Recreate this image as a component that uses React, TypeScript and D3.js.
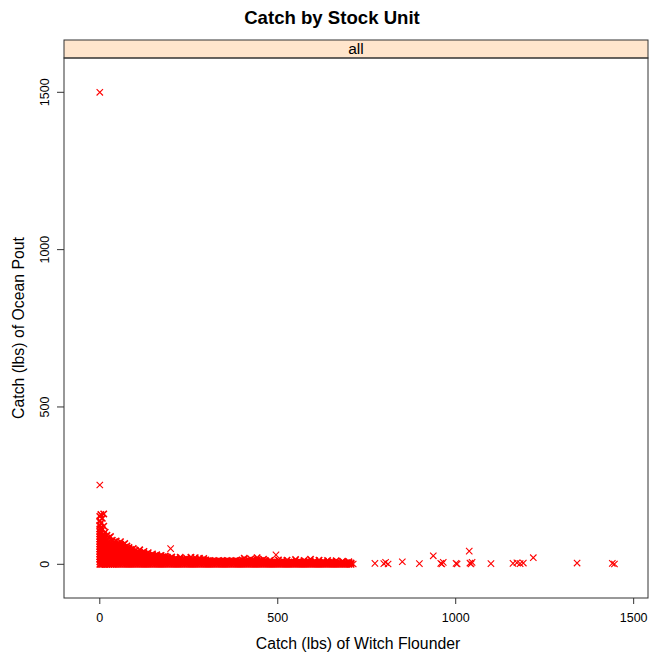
import React from "react";
import * as d3 from "d3";

// Trip-level catch (lbs): Witch Flounder on x, Ocean Pout on y.
// Low-catch trips grouped by Witch Flounder catch: [witch, pout, pout, ...]
const lowCatchTrips: number[][] = [
  [0, 0, 8, 16, 24, 32, 40, 48, 56, 64, 72, 80, 88, 96, 104, 112, 124, 138, 152],
  [3, 0, 4, 12, 20, 28, 36, 44, 52, 60, 68, 76, 84, 99, 117, 131, 158],
  [7, 0, 8, 16, 24, 32, 40, 48, 56, 64, 72, 80, 90, 110, 146],
  [11, 0, 4, 12, 20, 28, 36, 44, 52, 60, 68, 76, 86, 94, 121, 160],
  [15, 0, 8, 16, 24, 32, 40, 48, 56, 64, 72, 81, 102],
  [20, 0, 4, 12, 20, 28, 36, 44, 52, 60, 68, 76, 92],
  [25, 0, 8, 16, 24, 32, 40, 48, 56, 64, 72, 84],
  [30, 0, 4, 12, 20, 28, 36, 44, 52, 60, 66, 88],
  [35, 0, 8, 16, 24, 32, 40, 48, 56, 64, 76],
  [40, 0, 4, 12, 20, 28, 36, 44, 52, 60, 71],
  [46, 0, 8, 16, 24, 32, 40, 48, 56, 62, 74],
  [52, 0, 4, 12, 20, 28, 36, 44, 52, 60, 66],
  [58, 0, 8, 16, 24, 32, 40, 48, 56, 64, 72],
  [64, 0, 4, 12, 20, 28, 36, 44, 52, 61],
  [70, 0, 8, 16, 24, 32, 40, 48, 54, 66],
  [76, 0, 4, 12, 20, 28, 36, 44, 52, 58],
  [82, 0, 8, 16, 24, 32, 40, 48, 53],
  [88, 0, 4, 12, 20, 28, 36, 44, 47],
  [94, 0, 8, 16, 24, 32, 40, 50],
  [100, 0, 4, 12, 20, 28, 36, 44],
  [106, 0, 8, 16, 24, 32, 40],
  [112, 0, 4, 12, 20, 28, 36, 46],
  [118, 0, 8, 16, 24, 32, 36],
  [124, 0, 4, 12, 20, 28, 34, 41],
  [130, 0, 8, 16, 24, 32],
  [136, 0, 4, 12, 20, 28, 37],
  [142, 0, 8, 16, 24, 28],
  [148, 0, 4, 12, 20, 28, 33],
  [154, 0, 8, 16, 24, 27],
  [160, 0, 4, 12, 20, 26, 30],
  [166, 0, 8, 16, 24],
  [172, 0, 4, 12, 20, 28],
  [178, 0, 8, 16, 24],
  [184, 0, 4, 12, 20, 26],
  [190, 0, 8, 16, 22],
  [196, 0, 4, 12, 19],
  [202, 0, 8, 16, 23],
  [208, 0, 4, 12, 15],
  [214, 0, 8, 16, 20],
  [220, 0, 4, 12, 14],
  [226, 0, 8, 16, 22],
  [232, 0, 4, 12, 14],
  [238, 0, 8, 16],
  [244, 0, 4, 12, 19],
  [250, 0, 8, 15],
  [256, 0, 4, 12, 22],
  [262, 0, 8, 14],
  [268, 0, 4, 12, 21],
  [274, 0, 8, 13],
  [280, 0, 4, 12, 19],
  [286, 0, 8, 14],
  [292, 0, 4, 12, 18],
  [298, 0, 8, 14],
  [304, 0, 4, 11],
  [310, 0, 8, 12],
  [316, 0, 4, 10],
  [322, 0, 8, 11],
  [328, 0, 4, 10],
  [334, 0, 8, 12],
  [340, 0, 4, 10],
  [346, 0, 8, 11],
  [352, 0, 4, 10],
  [358, 0, 8, 12],
  [364, 0, 4, 10],
  [370, 0, 8, 11],
  [376, 0, 4, 10],
  [382, 0, 8, 12],
  [388, 0, 4, 10],
  [394, 0, 8, 11],
  [400, 0, 4, 7, 14],
  [406, 0, 6, 11, 19],
  [412, 0, 4, 7, 10],
  [418, 0, 6, 13],
  [424, 0, 4, 7, 10, 17],
  [430, 0, 6, 12],
  [436, 0, 4, 7, 10],
  [442, 0, 5, 14, 21],
  [448, 0, 4, 7, 10],
  [454, 0, 6, 12],
  [460, 0, 4, 7, 9, 16],
  [466, 0, 6, 11],
  [472, 0, 3, 6],
  [478, 0, 5, 12],
  [484, 0, 3, 7],
  [490, 0, 4, 10],
  [496, 0, 3, 6],
  [502, 0, 5, 14],
  [508, 0, 3, 7],
  [514, 0, 4, 11],
  [520, 0, 3, 6],
  [526, 0, 5, 13],
  [532, 0, 3, 7],
  [538, 0, 4, 9],
  [544, 0, 3, 6],
  [550, 0, 5, 15],
  [556, 0, 3, 7],
  [562, 0, 4, 10],
  [568, 0, 3, 6],
  [574, 0, 5, 12],
  [580, 0, 3, 7],
  [586, 0, 4, 9],
  [592, 0, 3, 6, 16],
  [598, 0, 5],
  [604, 0, 3, 7, 11],
  [610, 0, 4],
  [616, 0, 3, 6, 13],
  [622, 0, 5],
  [628, 0, 3, 7, 10],
  [634, 0, 4],
  [640, 0, 3, 6, 12],
  [646, 0, 5],
  [652, 0, 3, 9],
  [658, 0, 6],
  [664, 0, 4, 11],
  [670, 0, 5],
  [676, 0, 3],
  [682, 0, 6, 10],
  [688, 0, 2],
  [694, 0, 5],
  [700, 0, 3, 8],
  [706, 0, 4],
];

// Individual trips away from the dense cluster
const bigWitch = [0, 0, 199, 495, 712, 773, 798, 803, 810, 850, 898, 937, 958, 961, 965, 1001, 1004, 1038, 1040, 1043, 1046, 1099, 1161, 1172, 1181, 1190, 1218, 1341, 1440, 1446];
const bigPout = [1500, 252, 50, 30, 1, 3, 2, 6, 1, 8, 2, 27, 3, 1, 6, 3, 1, 42, 4, 1, 6, 2, 3, 5, 2, 4, 21, 4, 3, 1];

const xTicks = [0, 500, 1000, 1500];
const yTicks = [0, 500, 1000, 1500];

const W = 649;
const H = 658;
const panel = { left: 64, right: 648, top: 58, bottom: 598 };
const stripTop = 40;

export default function App() {
  const x = d3.scaleLinear().domain([-100.6, 1540.3]).range([panel.left, panel.right]);
  const y = d3.scaleLinear().domain([-107.1, 1609]).range([panel.bottom, panel.top]);

  const dense: [number, number][] = [];
  lowCatchTrips.forEach((row) => {
    const [w, ...pouts] = row;
    pouts.forEach((p) => dense.push([w, p]));
  });
  const sparse: [number, number][] = bigWitch.map((w, i) => [w, bigPout[i]]);

  const s = 3.2;
  const marker = `M${-s},${-s}L${s},${s}M${-s},${s}L${s},${-s}`;
  const font = "'Liberation Sans', Arial, Helvetica, sans-serif";
  const axisColor = "#333";

  return (
    <svg
      width={W}
      height={H}
      style={{ position: "absolute", left: 0, top: 0, background: "#fff" }}
      fontFamily={font}
    >
      <text x={332} y={17} textAnchor="middle" dy="0.35em" fontSize={18.6} fontWeight="bold">
        Catch by Stock Unit
      </text>

      {/* strip */}
      <rect
        x={panel.left}
        y={stripTop}
        width={panel.right - panel.left}
        height={panel.top - stripTop}
        fill="#FFE5CC"
        stroke={axisColor}
        strokeWidth={1}
      />
      <text x={(panel.left + panel.right) / 2} y={(stripTop + panel.top) / 2} dy="0.35em" textAnchor="middle" fontSize={15.5}>
        all
      </text>

      {/* points: overlapping markers in the dense cluster */}
      <g stroke="#FF0000" strokeWidth={1.6} fill="none">
        {dense.map(([a, b], i) => (
          <path key={i} d={marker} transform={`translate(${x(a)},${y(b)})`} />
        ))}
      </g>
      <g stroke="#FF0000" strokeWidth={1.1} fill="none">
        {sparse.map(([a, b], i) => (
          <path key={i} d={marker} transform={`translate(${x(a)},${y(b)})`} />
        ))}
      </g>

      {/* panel frame */}
      <rect
        x={panel.left}
        y={panel.top}
        width={panel.right - panel.left}
        height={panel.bottom - panel.top}
        fill="none"
        stroke={axisColor}
        strokeWidth={1}
      />

      {/* x axis */}
      {xTicks.map((t) => (
        <g key={`x${t}`}>
          <line x1={x(t)} x2={x(t)} y1={panel.bottom} y2={panel.bottom + 6} stroke={axisColor} />
          <text x={x(t)} y={618} dy="0.35em" textAnchor="middle" fontSize={12.5}>
            {t}
          </text>
        </g>
      ))}

      {/* y axis */}
      {yTicks.map((t) => (
        <g key={`y${t}`}>
          <line x1={panel.left - 7} x2={panel.left} y1={y(t)} y2={y(t)} stroke={axisColor} />
          <text
            transform={`translate(45,${y(t)}) rotate(-90)`}
            dy="0.35em"
            textAnchor="middle"
            fontSize={12.5}
          >
            {t}
          </text>
        </g>
      ))}

      <text x={358} y={643} dy="0.35em" textAnchor="middle" fontSize={15.8}>
        Catch (lbs) of Witch Flounder
      </text>
      <text transform={`translate(18,${(panel.top + panel.bottom) / 2}) rotate(-90)`} dy="0.35em" textAnchor="middle" fontSize={15.8}>
        Catch (lbs) of Ocean Pout
      </text>
    </svg>
  );
}
